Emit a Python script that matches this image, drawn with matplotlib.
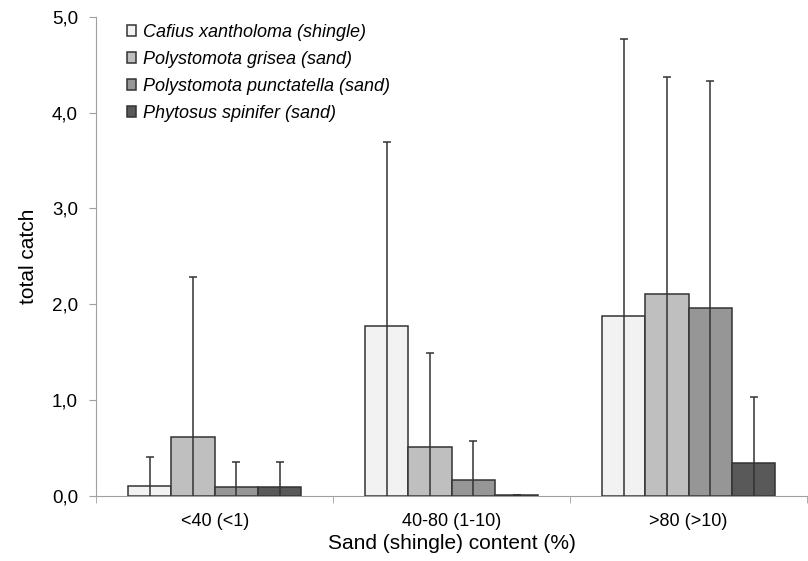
import numpy as np
import matplotlib
matplotlib.use('Agg')
from matplotlib import pyplot as plt
from matplotlib.ticker import FuncFormatter

groups = ['<40 (<1)', '40-80 (1-10)', '>80 (>10)']
species = ['Cafius xantholoma (shingle)', 'Polystomota grisea (sand)',
           'Polystomota punctatella (sand)', 'Phytosus spinifer (sand)']
colors = ['#f2f2f2', '#bfbfbf', '#969696', '#595959']

cafius = [0.10, 1.77, 1.88]
grisea = [0.62, 0.51, 2.11]
punctatella = [0.09, 0.17, 1.96]
phytosus = [0.09, 0.005, 0.34]

cafius_err = [0.31, 1.92, 2.89]
grisea_err = [1.66, 0.98, 2.26]
punctatella_err = [0.26, 0.40, 2.37]
phytosus_err = [0.26, 0.0, 0.69]

values = [cafius, grisea, punctatella, phytosus]
errors = [cafius_err, grisea_err, punctatella_err, phytosus_err]

plt.rcParams['font.family'] = ['Liberation Sans', 'DejaVu Sans']

fig = plt.figure(figsize=(8.08, 5.61), dpi=100)
ax = fig.add_axes([0.119, 0.116, 0.880, 0.854])

x = np.arange(len(groups))
w = 0.183
for i in range(4):
    pos = x + (i - 1.5) * w
    ax.bar(pos, values[i], w, color=colors[i], edgecolor='#333333',
           linewidth=1.1, label=species[i], zorder=2)
    ax.errorbar(pos, values[i], yerr=errors[i], fmt='none', ecolor='#333333',
                elinewidth=1.1, capsize=3, capthick=1.1, zorder=3)

ax.set_xlim(-0.5, 2.5)
ax.set_ylim(0, 5)
ax.set_yticks([0, 1, 2, 3, 4, 5])
ax.yaxis.set_major_formatter(FuncFormatter(lambda v, p: ('%.1f' % v).replace('.', ',')))
ax.set_xticks(x)
ax.set_xticklabels(groups, fontsize=13)
ax.set_xticks([-0.5, 0.5, 1.5, 2.5], minor=True)
ax.tick_params(axis='x', which='major', length=0, pad=12)
ax.tick_params(axis='x', which='minor', length=5, color='#a0a0a0')
ax.tick_params(axis='y', labelsize=13.5, length=5, color='#a0a0a0', pad=8)

for s in ['top', 'right']:
    ax.spines[s].set_visible(False)
for s in ['left', 'bottom']:
    ax.spines[s].set_color('#a0a0a0')

ax.set_ylabel('total catch', fontsize=15, labelpad=10)
ax.set_xlabel('Sand (shingle) content (%)', fontsize=15, labelpad=3)

leg = ax.legend(loc='upper left', bbox_to_anchor=(0.044, 0.985), frameon=False,
                prop={'style': 'italic', 'size': 13}, handlelength=0.5,
                handleheight=0.5, handletextpad=0.35, labelspacing=0.55,
                borderaxespad=0, borderpad=0)

plt.savefig('out.png', dpi=100)
